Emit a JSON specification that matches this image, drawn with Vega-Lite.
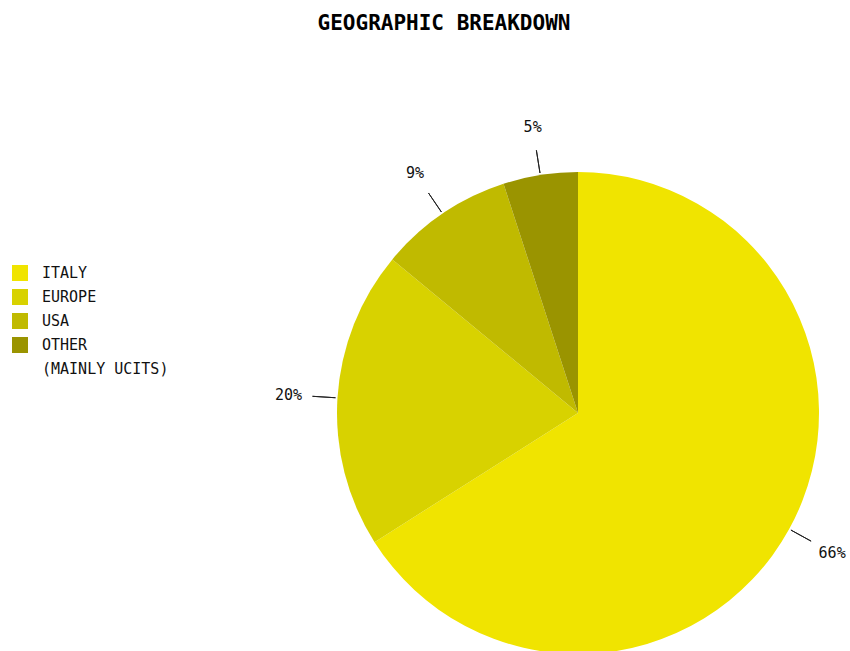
{
  "$schema": "https://vega.github.io/schema/vega-lite/v6.json",
  "width": 484,
  "height": 476,
  "autosize": {"type": "none"},
  "padding": {"left": 336, "top": 175, "right": 30, "bottom": 0},
  "background": "white",
  "config": {"style": {"guide-label": {"lineHeight": 24}}},
  "title": {
    "text": "GEOGRAPHIC BREAKDOWN",
    "font": "DejaVu Sans Mono",
    "fontSize": 21,
    "fontWeight": "bold",
    "color": "#000000",
    "anchor": "middle",
    "frame": "group",
    "offset": 86,
    "dx": -134
  },
  "data": {
    "values": [
      {"region": "ITALY", "share": 66, "order": 1},
      {"region": "EUROPE", "share": 20, "order": 2},
      {"region": "USA", "share": 9, "order": 3},
      {"region": "OTHER (MAINLY UCITS)", "share": 5, "order": 4}
    ]
  },
  "transform": [
    {"window": [{"op": "sum", "field": "share", "as": "cum"}], "sort": [{"field": "order"}], "frame": [null, 0]},
    {"calculate": "datum.cum - datum.share / 2", "as": "mid"},
    {"calculate": "datum.share + '%'", "as": "label"}
  ],
  "layer": [
    {
      "mark": {"type": "arc", "outerRadius": 241, "stroke": null},
      "encoding": {
        "theta": {"field": "share", "type": "quantitative", "stack": true},
        "order": {"field": "order", "type": "quantitative"},
        "color": {
          "field": "region",
          "type": "nominal",
          "scale": {
            "domain": ["ITALY", "EUROPE", "USA", "OTHER (MAINLY UCITS)"],
            "range": ["#F0E400", "#D8D200", "#C0BA00", "#9A9400"]
          },
          "legend": {
            "title": null,
            "orient": "none",
            "legendX": -324,
            "legendY": 90,
            "padding": 0,
            "symbolType": "square",
            "symbolSize": 256,
            "symbolStrokeWidth": 0,
            "symbolOpacity": 1,
            "rowPadding": 8,
            "labelOffset": 14,
            "labelFont": "DejaVu Sans Mono",
            "labelFontSize": 15,
            "labelColor": "#111111",
            "labelLimit": 300,
            "labelExpr": "datum.label == 'OTHER (MAINLY UCITS)' ? ['OTHER', '(MAINLY UCITS)'] : datum.label"
          }
        }
      }
    },
    {
      "mark": {"type": "arc", "innerRadius": 243, "outerRadius": 266, "stroke": "#222222", "strokeWidth": 1, "fill": null, "filled": false},
      "encoding": {
        "theta": {"field": "mid", "type": "quantitative", "stack": null},
        "theta2": {"field": "mid"}
      }
    },
    {
      "mark": {"type": "text", "radius": 290, "font": "DejaVu Sans Mono", "fontSize": 15, "color": "#111111", "align": "center", "baseline": "middle"},
      "encoding": {
        "theta": {"field": "mid", "type": "quantitative", "stack": null},
        "text": {"field": "label", "type": "nominal"}
      }
    }
  ]
}
